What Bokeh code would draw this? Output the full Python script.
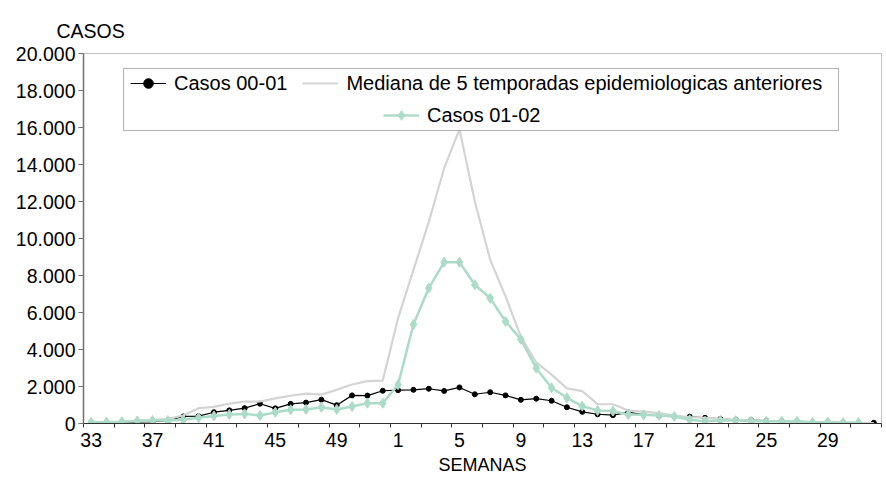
from bokeh.plotting import figure
from bokeh.models import Range1d, FixedTicker, Legend, LegendItem, BoxAnnotation, Title
from bokeh.embed import file_html
from bokeh.resources import INLINE

FONT = "Liberation Sans"

weeks = [33, 34, 35, 36, 37, 38, 39, 40, 41, 42, 43, 44, 45, 46, 47, 48, 49, 50, 51, 52,
         1, 2, 3, 4, 5, 6, 7, 8, 9, 10, 11, 12, 13, 14, 15, 16, 17, 18, 19, 20,
         21, 22, 23, 24, 25, 26, 27, 28, 29, 30, 31, 32]

casos_00_01 = [20, 30, 60, 80, 100, 150, 380, 400, 610, 710, 830, 1070, 820, 1060, 1130, 1290,
               990, 1520, 1510, 1770, 1800, 1820, 1880, 1760, 1950, 1580, 1690, 1520, 1280, 1340,
               1230, 880, 630, 500, 450, 600, 480, 420, 380, 370, 310, 250, 200, 180, 150, 120,
               100, 70, 60, 50, 40, 40]

mediana = [20, 40, 80, 150, 200, 250, 430, 830, 900, 1070, 1180, 1190, 1360, 1500, 1610, 1560,
           1820, 2110, 2290, 2320, 5700, 8300, 10900, 13800, 15900, 12000, 8850, 6870, 4700, 3300,
           2640, 1900, 1750, 1050, 1040, 700, 640, 560, 430, 350, 300, 250, 200, 170, 140, 120,
           100, 80, 60, 40, 30, 20]

casos_01_02 = [70, 70, 100, 140, 160, 160, 200, 310, 410, 490, 520, 430, 610, 740, 760, 880,
               760, 920, 1100, 1100, 2100, 5350, 7320, 8720, 8720, 7500, 6770, 5520, 4550, 2990,
               1930, 1390, 940, 700, 670, 480, 470, 430, 380, 200, 120, 160, 160, 120, 120, 120,
               120, 50, 80, 50, 50, float("nan")]

y_ticks = [0, 2000, 4000, 6000, 8000, 10000, 12000, 14000, 16000, 18000, 20000]
y_tick_labels = ["0", "2.000", "4.000", "6.000", "8.000", "10.000", "12.000", "14.000",
                 "16.000", "18.000", "20.000"]

n = len(weeks)
xs = list(range(n))

p = figure(width=886, height=477, output_backend="svg", toolbar_location=None,
           x_range=Range1d(-0.5, n - 0.5), y_range=Range1d(0, 20000),
           min_border_left=83, min_border_right=5, min_border_top=53, min_border_bottom=54)
p.background_fill_color = "white"
p.border_fill_color = "white"
p.outline_line_color = "#c0c0c0"
p.xgrid.visible = False
p.ygrid.visible = False

p.title = Title(text="CASOS", align="left", offset=-27, standoff=20, vertical_align="top",
                text_font_size="19.5px", text_font=FONT, text_font_style="normal",
                text_color="black")

# y axis
p.yaxis.ticker = FixedTicker(ticks=y_ticks)
p.yaxis.major_label_overrides = {t: l for t, l in zip(y_ticks, y_tick_labels)}
p.yaxis.major_label_text_font = FONT
p.yaxis.major_label_text_font_size = "19.5px"
p.yaxis.major_label_text_color = "black"
p.yaxis.major_tick_out = 5
p.yaxis.major_tick_in = 0
p.yaxis.minor_tick_out = 0
p.yaxis.minor_tick_in = 0
p.yaxis.major_label_standoff = 3
p.yaxis.axis_line_color = "#707070"
p.yaxis.axis_line_width = 1.5
p.yaxis.major_tick_line_color = "#707070"

# x axis
label_idx = list(range(0, n, 4))
minor_pos = [i - 0.5 for i in range(0, n + 1, 2)]
p.xaxis.ticker = FixedTicker(ticks=label_idx, minor_ticks=minor_pos)
p.xaxis.major_label_overrides = {i: str(weeks[i]) for i in label_idx}
p.xaxis.major_label_text_font = FONT
p.xaxis.major_label_text_font_size = "19.5px"
p.xaxis.major_label_text_color = "black"
p.xaxis.major_tick_out = 0
p.xaxis.major_tick_in = 0
p.xaxis.minor_tick_out = 4
p.xaxis.minor_tick_in = 0
p.xaxis.minor_tick_line_color = "#303030"
p.xaxis.major_label_standoff = 5
p.xaxis.axis_line_color = "#303030"
p.xaxis.axis_line_width = 1.2
p.xaxis.axis_label = "SEMANAS"
p.xaxis.axis_label_text_font = FONT
p.xaxis.axis_label_text_font_size = "18px"
p.xaxis.axis_label_text_font_style = "normal"
p.xaxis.axis_label_text_color = "black"
p.xaxis.axis_label_standoff = 5

BLACK = "black"
GRAY = "#d4d4d4"
GREEN = "#acdcc9"

r_b_line = p.line(xs, casos_00_01, line_color=BLACK, line_width=1.2)
r_b_pts = p.scatter(xs, casos_00_01, marker="circle", size=5, fill_color=BLACK, line_color=BLACK)
r_g_line = p.line(xs, mediana, line_color=GRAY, line_width=2.2)
r_n_line = p.line(xs, casos_01_02, line_color=GREEN, line_width=2.5)
r_n_pts = p.scatter(xs, casos_01_02, marker="diamond", size=10, fill_color=GREEN, line_color=GREEN)

box = BoxAnnotation(left=40, right=755, bottom=293, top=355,
                    left_units="screen", right_units="screen",
                    bottom_units="screen", top_units="screen",
                    fill_color="white", fill_alpha=1.0, line_color="black", line_width=1)
p.add_layout(box)

common = dict(padding=0, margin=0, spacing=15, label_standoff=8, glyph_width=36,
              glyph_height=24, label_height=24,
              label_text_font=FONT, label_text_font_size="20px", label_text_color="black",
              border_line_alpha=0, background_fill_alpha=0)

legA = Legend(items=[LegendItem(label="Casos 00-01", renderers=[r_b_line, r_b_pts]),
                     LegendItem(label="Mediana de 5 temporadas epidemiologicas anteriores",
                                renderers=[r_g_line])],
              orientation="horizontal", location=(47, 328), **common)
legB = Legend(items=[LegendItem(label="Casos 01-02", renderers=[r_n_line, r_n_pts])],
              orientation="horizontal", location=(300, 296), **common)
p.add_layout(legA, "center")
p.add_layout(legB, "center")

open("out.html", "w").write(file_html(p, INLINE))
